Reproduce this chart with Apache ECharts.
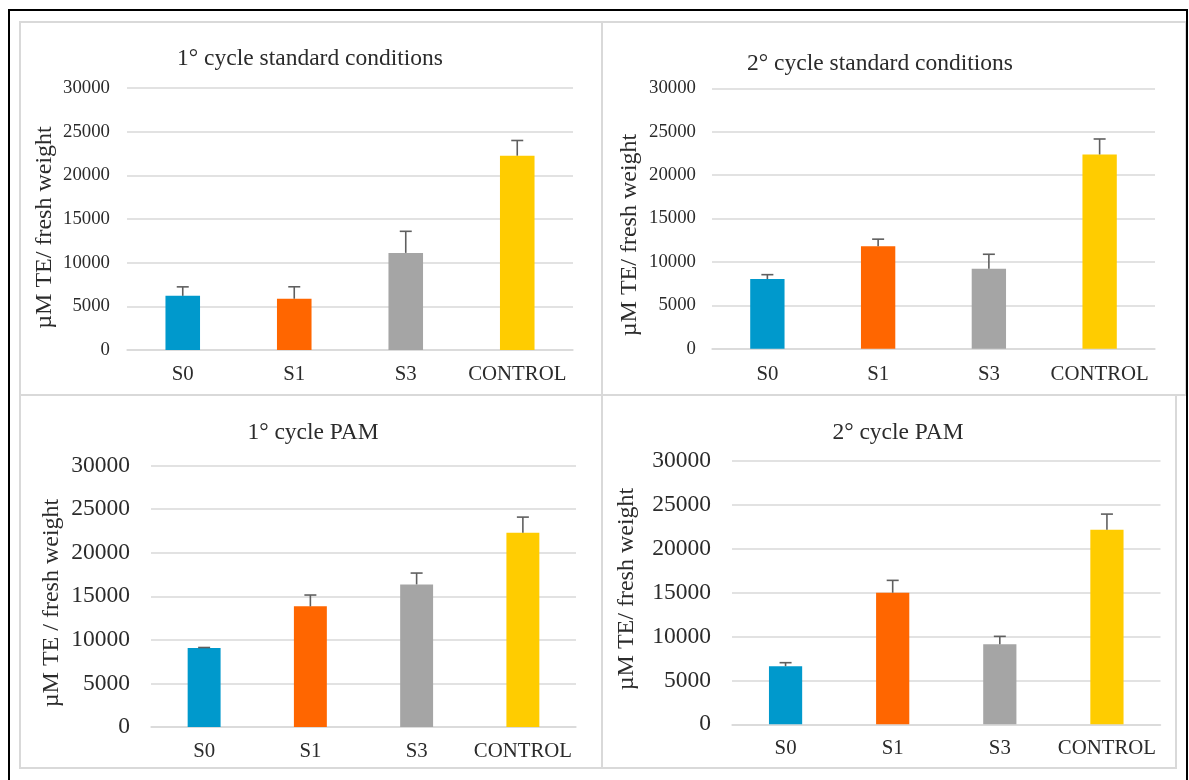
<!DOCTYPE html>
<html>
<head>
<meta charset="utf-8">
<title>Antioxidant capacity by cycle</title>
<script src="https://cdn.jsdelivr.net/npm/echarts@6/dist/echarts.min.js"></script>
<style>
  html, body { margin: 0; padding: 0; background: #ffffff; }
  #chart { width: 1189px; height: 780px; }
</style>
</head>
<body>
<div id="chart"></div>
<script>
// Categories shared by all four panels
const categories = ['S0', 'S1', 'S3', 'CONTROL'];
const barColors = ['#0099cc', '#ff6600', '#a5a5a5', '#ffcc00'];

// Y axis ticks (µM TE / fresh weight)
const yMin = 0;
const yMax = 30000;
const yStep = 5000;

// 1° cycle, standard conditions: means and upper error
const cycle1Standard = [6200, 5870, 11120, 22250];
const cycle1StandardErr = [1030, 1370, 2470, 1740];

// 2° cycle, standard conditions
const cycle2Standard = [8030, 11800, 9220, 22380];
const cycle2StandardErr = [500, 820, 1660, 1780];

// 1° cycle, PAM
const cycle1Pam = [9060, 13840, 16360, 22280];
const cycle1PamErr = [60, 1300, 1300, 1800];

// 2° cycle, PAM
const cycle2Pam = [6610, 14990, 9110, 22160];
const cycle2PamErr = [410, 1410, 910, 1790];

const panelTitles = [
  '1\u00b0 cycle standard conditions',
  '2\u00b0 cycle standard conditions',
  '1\u00b0 cycle PAM',
  '2\u00b0 cycle PAM'
];
const yAxisTitles = [
  '\u00b5M TE/ fresh weight',
  '\u00b5M TE/ fresh weight',
  '\u00b5M TE / fresh weight',
  '\u00b5M TE/ fresh weight'
];

const seriesValues = [cycle1Standard, cycle2Standard, cycle1Pam, cycle2Pam];
const seriesErrors = [cycle1StandardErr, cycle2StandardErr, cycle1PamErr, cycle2PamErr];

const FONT = '"Liberation Serif", "Times New Roman", serif';
const TEXT = '#2b2b2b';

// Layout of each panel (plot area, label sizes, frame)
const panels = [
  { grid: { left: 127, top: 88, width: 446, height: 262 }, tick: 18.8, cat: 20.8, catMargin: 14, yMargin: 17,
    title: [310, 47], yTitle: [44.5, 227.5], frame: [20, 22, 582, 373] },
  { grid: { left: 712, top: 88.3, width: 443, height: 260.4 }, tick: 18.8, cat: 20.8, catMargin: 15, yMargin: 16,
    title: [880, 52], yTitle: [630, 235], frame: [602, 22, 584, 373] },
  { grid: { left: 151, top: 465.5, width: 425, height: 261.5 }, tick: 23.5, cat: 20.8, catMargin: 14, yMargin: 21,
    title: [313, 421], yTitle: [52, 603], frame: [20, 395, 582, 373] },
  { grid: { left: 732, top: 461, width: 428.5, height: 263.3 }, tick: 23.5, cat: 20.8, catMargin: 14, yMargin: 21,
    title: [898, 421], yTitle: [627, 589], frame: [602, 395, 574, 373] }
];

const option = {
  backgroundColor: '#ffffff',
  animation: false,
  title: panels.map((p, i) => ({
    text: panelTitles[i],
    left: p.title[0],
    top: p.title[1],
    textAlign: 'center',
    padding: 0,
    textStyle: { fontFamily: FONT, fontSize: 23.5, fontWeight: 'normal', color: TEXT }
  })),
  grid: panels.map(p => Object.assign({}, p.grid)),
  xAxis: panels.map((p, i) => ({
    type: 'category',
    gridIndex: i,
    data: categories,
    axisLine: { show: true, lineStyle: { color: '#d9d9d9', width: 1.5 } },
    axisTick: { show: false },
    axisLabel: { fontFamily: FONT, fontSize: p.cat, color: TEXT, margin: p.catMargin, interval: 0 }
  })),
  yAxis: panels.map((p, i) => ({
    type: 'value',
    gridIndex: i,
    min: yMin,
    max: yMax,
    interval: yStep,
    axisLine: { show: false },
    axisTick: { show: false },
    splitLine: { show: true, lineStyle: { color: '#d9d9d9', width: 1.5 } },
    axisLabel: {
      fontFamily: FONT, fontSize: p.tick, color: TEXT, margin: p.yMargin,
      formatter: v => String(v)
    }
  })),
  series: []
};

seriesValues.forEach((vals, i) => {
  option.series.push({
    type: 'bar',
    xAxisIndex: i,
    yAxisIndex: i,
    barWidth: '31%',
    data: vals.map((v, k) => ({ value: v, itemStyle: { color: barColors[k] } })),
    z: 2
  });
  option.series.push({
    type: 'custom',
    xAxisIndex: i,
    yAxisIndex: i,
    z: 3,
    data: vals.map((v, k) => [k, v, seriesErrors[i][k]]),
    renderItem: function (params, api) {
      const base = api.coord([api.value(0), api.value(1)]);
      const top = api.coord([api.value(0), api.value(1) + api.value(2)]);
      const half = 6;
      const style = { stroke: '#5f5f5f', lineWidth: 1.6 };
      return {
        type: 'group',
        children: [
          { type: 'line', shape: { x1: base[0], y1: base[1], x2: top[0], y2: top[1] }, style: style },
          { type: 'line', shape: { x1: top[0] - half, y1: top[1], x2: top[0] + half, y2: top[1] }, style: style }
        ]
      };
    }
  });
});

// Panel frames, outer border and rotated axis titles
const graphics = [];
panels.forEach(p => {
  graphics.push({
    type: 'rect',
    shape: { x: p.frame[0], y: p.frame[1], width: p.frame[2], height: p.frame[3] },
    style: { fill: null, stroke: '#d9d9d9', lineWidth: 2 },
    z: -1
  });
});
graphics.push({
  type: 'rect',
  shape: { x: 9, y: 10, width: 1178, height: 790 },
  style: { fill: null, stroke: '#000000', lineWidth: 2 },
  z: 10
});
panels.forEach((p, i) => {
  graphics.push({
    type: 'text',
    x: p.yTitle[0],
    y: p.yTitle[1],
    rotation: Math.PI / 2,
    style: {
      text: yAxisTitles[i],
      fontFamily: FONT,
      fontSize: 24,
      fill: TEXT,
      textAlign: 'center',
      textVerticalAlign: 'middle'
    }
  });
});
option.graphic = graphics;

const chart = echarts.init(document.getElementById('chart'), null, { renderer: 'canvas' });
chart.setOption(option);
</script>
</body>
</html>
